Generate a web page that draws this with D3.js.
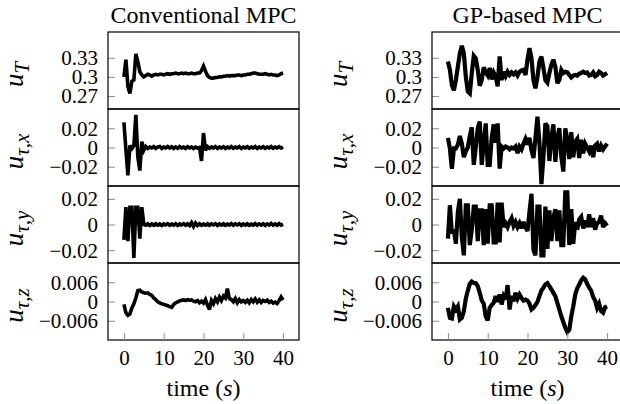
<!DOCTYPE html>
<html>
<head>
<meta charset="utf-8">
<script src="https://cdn.jsdelivr.net/npm/d3@7"></script>
<style>
  body { margin: 0; background: #fff; }
  svg text { font-family: "Liberation Serif", "Times New Roman", Times, serif !important; fill: #000; }
</style>
</head>
<body>
<svg id="chart"></svg>
<script>
// sample times (s), one every 0.5 s
const time = d3.range(81).map(i => i * 0.5);

// Conventional MPC
const convUT = [
  0.300, 0.327, 0.285, 0.274, 0.293, 0.295, 0.336, 0.324, 0.308, 0.303,
  0.300, 0.302, 0.304, 0.303, 0.301, 0.303, 0.304, 0.303, 0.304, 0.304,
  0.303, 0.304, 0.305, 0.304, 0.305, 0.305, 0.306, 0.305, 0.305, 0.306,
  0.305, 0.306, 0.305, 0.305, 0.306, 0.305, 0.305, 0.306, 0.306, 0.310,
  0.317, 0.309, 0.302, 0.299, 0.298, 0.298, 0.299, 0.299, 0.300, 0.300,
  0.301, 0.301, 0.302, 0.301, 0.302, 0.302, 0.302, 0.303, 0.303, 0.302,
  0.303, 0.303, 0.304, 0.304, 0.305, 0.306, 0.306, 0.305, 0.304, 0.304,
  0.304, 0.305, 0.304, 0.303, 0.304, 0.303, 0.303, 0.302, 0.303, 0.305,
  0.306
];
const convUX = [
  0.026, -0.002, -0.029, 0.002, -0.001, 0.002, 0.034, -0.010, -0.024, 0.006,
  -0.003, 0.001, -0.001, 0.0005, -0.0005, 0.001, -0.001, 0.0005, 0.001, -0.001,
  0.0005, -0.0005, 0.001, -0.0005, 0.0008, -0.001, 0.0005, -0.0008, 0.001, -0.0005,
  0.0005, -0.001, 0.0008, -0.0005, 0.0005, -0.001, 0.0005, -0.0005, 0.000, -0.014,
  0.015, -0.003, 0.001, -0.0008, 0.0005, -0.0005, 0.001, -0.001, 0.0005, -0.0005,
  0.0008, -0.001, 0.0005, -0.0005, 0.001, -0.0008, 0.0005, -0.0005, 0.001, -0.001,
  0.0005, -0.0005, 0.0008, -0.0008, 0.0005, -0.0005, 0.001, -0.001, 0.0005, -0.0005,
  0.0008, -0.0008, 0.0005, -0.0005, 0.001, -0.0008, 0.0005, -0.0005, 0.0008, -0.0005,
  0.0005
];
const convUY = [
  -0.012, 0.0135, -0.013, 0.0135, 0.0135, -0.026, 0.0135, 0.0135, -0.011, 0.0135,
  0.000, -0.0006, 0.0005, -0.0007, 0.0004, -0.0006, 0.0006, -0.0005, 0.0004, -0.0007,
  0.0005, -0.0004, 0.0006, -0.0006, 0.0004, -0.0005, 0.0006, -0.0007, 0.0005, -0.0004,
  0.0006, -0.0006, 0.0005, -0.0008, 0.0015, -0.0015, 0.0012, -0.0008, 0.0005, -0.0006,
  0.0004, -0.0005, 0.0006, -0.0006, 0.0005, -0.0004, 0.0006, -0.0007, 0.0005, -0.0005,
  0.0006, -0.0006, 0.0004, -0.0005, 0.0007, -0.0006, 0.0005, -0.0004, 0.0006, -0.0007,
  0.0005, -0.0005, 0.0006, -0.0006, 0.0004, -0.0005, 0.0007, -0.0006, 0.0005, -0.0005,
  0.0006, -0.0007, 0.0005, -0.0005, 0.0008, -0.0006, 0.0005, -0.0006, 0.0007, -0.0005,
  0.0002
];
const convUZ = [
  -0.0009, -0.0035, -0.0043, -0.0039, -0.0020, -0.0007, 0.0011, 0.0034, 0.0035, 0.0030,
  0.0027, 0.0026, 0.0027, 0.0022, 0.0019, 0.0011, 0.0006, -0.0001, -0.0004, -0.0007,
  -0.0009, -0.0011, -0.0013, -0.0016, -0.0018, -0.0009, -0.0004, -0.0001, 0.0002, 0.0004,
  0.0005, 0.0003, 0.0006, 0.0004, 0.0005, 0.0001, -0.0001, 0.0003, -0.0004, 0.0001,
  -0.0005, 0.0006, -0.0011, -0.0025, 0.0003, -0.0007, 0.0009, -0.0001, 0.0014, 0.0003,
  0.0017, 0.0011, 0.0040, 0.0009, 0.0006, -0.0001, 0.0009, -0.0004, 0.0006, -0.0001,
  0.0003, -0.0003, 0.0004, -0.0004, 0.0006, -0.0001, 0.0008, -0.0002, 0.0005, -0.0003,
  0.0003, 0.0000, 0.0004, -0.0003, 0.0001, -0.0005, -0.0002, -0.0006, 0.0003, 0.0014,
  0.0005
];

// GP-based MPC
const gpUT = [
  0.324, 0.311, 0.287, 0.279, 0.295, 0.316, 0.337, 0.349, 0.337, 0.300,
  0.277, 0.274, 0.306, 0.333, 0.329, 0.311, 0.286, 0.295, 0.315, 0.307,
  0.302, 0.314, 0.296, 0.307, 0.301, 0.285, 0.332, 0.295, 0.308, 0.301,
  0.308, 0.303, 0.307, 0.304, 0.307, 0.302, 0.308, 0.310, 0.311, 0.303,
  0.327, 0.345, 0.329, 0.295, 0.282, 0.300, 0.324, 0.332, 0.314, 0.295,
  0.291, 0.306, 0.319, 0.327, 0.316, 0.290, 0.295, 0.311, 0.306, 0.308,
  0.307, 0.303, 0.299, 0.302, 0.303, 0.302, 0.305, 0.306, 0.308, 0.306,
  0.307, 0.302, 0.303, 0.307, 0.301, 0.303, 0.308, 0.306, 0.302, 0.304,
  0.306
];
const gpUX = [
  0.010, -0.001, -0.022, -0.001, -0.001, 0.003, 0.012, 0.004, -0.010, -0.004,
  0.000, 0.012, 0.021, -0.018, 0.000, 0.020, 0.027, -0.018, 0.005, 0.025,
  -0.018, -0.018, 0.010, 0.024, 0.005, 0.025, -0.022, 0.001, -0.001, 0.001,
  0.000, -0.002, 0.000, -0.001, 0.001, -0.006, 0.001, -0.002, 0.004, 0.009,
  0.003, 0.010, -0.003, -0.011, 0.010, 0.032, 0.005, -0.038, -0.010, 0.025,
  0.022, -0.014, 0.010, 0.024, -0.015, 0.010, 0.020, -0.010, -0.025, 0.020,
  0.008, -0.012, 0.016, -0.010, 0.006, 0.009, -0.011, 0.008, -0.006, 0.004,
  0.000, -0.004, 0.002, -0.010, 0.002, 0.004, -0.004, 0.002, -0.002, 0.001,
  0.004
];
const gpUY = [
  -0.011, 0.015, -0.007, -0.004, -0.015, 0.010, 0.020, -0.010, -0.024, 0.015,
  0.015, -0.016, -0.004, 0.014, 0.014, -0.013, 0.011, 0.011, -0.016, 0.012,
  -0.015, 0.015, 0.015, -0.014, -0.014, 0.017, -0.014, 0.017, -0.002, 0.001,
  -0.002, 0.002, 0.005, -0.001, 0.002, -0.002, 0.001, -0.003, 0.002, -0.002,
  -0.005, 0.010, 0.024, -0.020, -0.024, 0.014, 0.014, -0.024, -0.024, 0.014,
  -0.019, 0.011, -0.013, 0.005, 0.012, -0.013, 0.011, -0.016, -0.016, 0.025,
  0.025, -0.016, 0.012, -0.015, 0.002, -0.004, 0.004, 0.006, -0.003, 0.003,
  -0.002, 0.008, -0.002, 0.005, -0.004, 0.001, 0.002, 0.007, -0.002, 0.001,
  -0.001
];
const gpUZ = [
  -0.0020, -0.0051, -0.0053, -0.0015, -0.0025, -0.0015, -0.0056, -0.0051, -0.0030, 0.0009,
  0.0034, 0.0055, 0.0062, 0.0058, 0.0057, 0.0048, 0.0027, 0.0003, -0.0007, -0.0046,
  -0.0059, -0.0020, -0.0011, -0.0004, 0.0017, -0.0001, 0.0022, -0.0009, 0.0017, 0.0006,
  0.0051, -0.0025, 0.0017, 0.0001, 0.0027, 0.0009, 0.0022, 0.0011, 0.0003, 0.0006,
  0.0003, -0.0007, -0.0025, -0.0020, -0.0011, -0.0001, 0.0017, 0.0034, 0.0043, 0.0053,
  0.0057, 0.0048, 0.0038, 0.0027, 0.0017, -0.0004, -0.0025, -0.0046, -0.0064, -0.0082,
  -0.0095, -0.0088, -0.0046, -0.0015, 0.0022, 0.0041, 0.0053, 0.0066, 0.0074, 0.0069,
  0.0055, 0.0043, 0.0034, 0.0014, 0.0003, -0.0020, -0.0007, -0.0030, -0.0035, -0.0018,
  -0.0015
];

// ticks and labels
const timeTicks = [0, 10, 20, 30, 40];
const ticksT = [0.27, 0.3, 0.33];
const labelsT = ["0.27", "0.3", "0.33"];
const ticksXY = [-0.02, 0, 0.02];
const labelsXY = ["\u22120.02", "0", "0.02"];
const ticksZ = [-0.006, 0, 0.006];
const labelsZ = ["\u22120.006", "0", "0.006"];
const titles = ["Conventional MPC", "GP-based MPC"];

const rows = [
  { sub: "T", domain: [0.2495, 0.3705], ticks: ticksT, labels: labelsT, series: [convUT, gpUT] },
  { sub: "\u03c4,x", domain: [-0.04, 0.04], ticks: ticksXY, labels: labelsXY, series: [convUX, gpUX] },
  { sub: "\u03c4,y", domain: [-0.03, 0.03], ticks: ticksXY, labels: labelsXY, series: [convUY, gpUY] },
  { sub: "\u03c4,z", domain: [-0.012, 0.012], ticks: ticksZ, labels: labelsZ, series: [convUZ, gpUZ] }
];

const width = 620, height = 404;
const top0 = 32, rowH = 77;
const cols = [{ left: 108, right: 299, labX: 23, lw: 3.6 }, { left: 432, right: 623, labX: 347, lw: 4.2 }];
const serif = '"Liberation Serif", "Times New Roman", Times, serif';

const svg = d3.select("#chart").attr("width", width).attr("height", height);

cols.forEach((c, ci) => {
  const x = d3.scaleLinear().domain([-4, 44]).range([c.left, c.right]);

  svg.append("text")
    .attr("x", (c.left + c.right) / 2)
    .attr("y", 23)
    .attr("text-anchor", "middle")
    .style("font-family", serif)
    .style("font-size", "24px")
    .text(titles[ci]);

  rows.forEach((r, ri) => {
    const y0 = top0 + ri * rowH;
    const y = d3.scaleLinear().domain(r.domain).range([y0 + rowH, y0]);

    const clipId = "clip" + ci + ri;
    svg.append("clipPath").attr("id", clipId)
      .append("rect")
      .attr("x", c.left).attr("y", y0)
      .attr("width", c.right - c.left).attr("height", rowH);

    const ax = svg.append("g")
      .attr("transform", "translate(" + c.left + ",0)")
      .call(d3.axisLeft(y).tickValues(r.ticks).tickSize(-7).tickPadding(10)
        .tickFormat((d, i) => r.labels[i]));
    ax.attr("font-family", null).attr("font-size", null);
    ax.select(".domain").remove();
    ax.selectAll("line").attr("stroke", "#8a8a8a");
    ax.selectAll("text")
      .style("font-family", serif)
      .style("font-size", "21px")
      .attr("dy", "0.33em");

    const line = d3.line()
      .x((d, i) => x(time[i]))
      .y(d => y(d));

    svg.append("path")
      .datum(r.series[ci])
      .attr("clip-path", "url(#" + clipId + ")")
      .attr("fill", "none")
      .attr("stroke", "#000")
      .attr("stroke-width", c.lw)
      .attr("stroke-linejoin", "miter")
      .attr("stroke-miterlimit", 3)
      .attr("d", line);

    svg.append("rect")
      .attr("x", c.left).attr("y", y0)
      .attr("width", c.right - c.left).attr("height", rowH)
      .attr("fill", "none").attr("stroke", "#000").attr("stroke-width", 1.2);

    // y label u with subscript
    const lab = svg.append("text")
      .attr("transform", "translate(" + c.labX + "," + (y0 + rowH / 2 + 4) + ") rotate(-90)")
      .attr("text-anchor", "middle")
      .style("font-family", serif)
      .style("font-style", "italic");
    lab.append("tspan").style("font-size", "27px").text("u");
    lab.append("tspan").style("font-size", "21px").attr("dy", 6).text(r.sub);
  });

  const bottom = top0 + rows.length * rowH;
  const xa = svg.append("g")
    .attr("transform", "translate(0," + bottom + ")")
    .call(d3.axisBottom(x).tickValues(timeTicks).tickSize(-7).tickPadding(10));
  xa.attr("font-family", null).attr("font-size", null);
  xa.select(".domain").remove();
  xa.selectAll("line").attr("stroke", "#8a8a8a");
  xa.selectAll("text").style("font-family", serif).style("font-size", "21px");

  const xl = svg.append("text")
    .attr("x", (c.left + c.right) / 2)
    .attr("y", 396)
    .attr("text-anchor", "middle")
    .style("font-family", serif)
    .style("font-size", "24px");
  xl.append("tspan").text("time (");
  xl.append("tspan").style("font-style", "italic").text("s");
  xl.append("tspan").text(")");
});
</script>
</body>
</html>
